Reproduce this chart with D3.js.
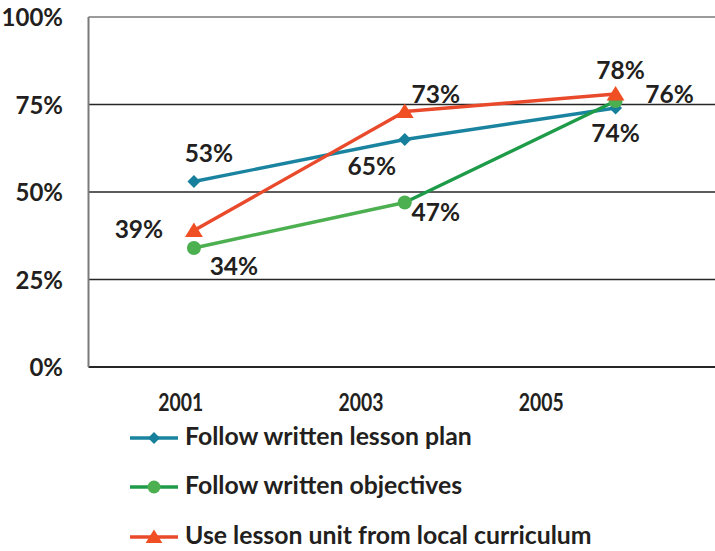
<!DOCTYPE html>
<html>
<head>
<meta charset="utf-8">
<script src="https://cdn.jsdelivr.net/npm/d3@7"></script>
<style>
  html, body { margin: 0; padding: 0; background: #fff; }
  svg { display: block; }
  text { font-family: Lato, "Open Sans", sans-serif; font-weight: bold; fill: #231f20; }
</style>
</head>
<body>
<svg id="chart" width="715" height="551"></svg>
<script>
// ---- data ----
const years = ["2001", "2003", "2005"];
const lessonPlan = [53, 65, 74];
const objectives = [34, 47, 76];
const localCurriculum = [39, 73, 78];
const seriesNames = ["Follow written lesson plan", "Follow written objectives", "Use lesson unit from local curriculum"];
const yTicks = [0, 25, 50, 75, 100];

// ---- layout ----
const W = 715, H = 551;
const plot = { left: 88.5, right: 721, top: 17, bottom: 367 };
const svg = d3.select("#chart");

const x = d3.scalePoint().domain(years).range([plot.left, plot.right]).padding(0.5);
const xLabel = d3.scalePoint().domain(years).range([90, 631]).padding(0.5);
const y = d3.scaleLinear().domain([0, 100]).range([plot.bottom, plot.top]);

// gridlines
svg.append("g").selectAll("line").data(yTicks).join("line")
  .attr("x1", plot.left).attr("x2", W)
  .attr("y1", d => y(d)).attr("y2", d => y(d))
  .attr("stroke", d => d === 100 ? "#7a7a7a" : "#262626")
  .attr("stroke-width", d => d === 0 ? 2 : 1.6);

// left axis line
svg.append("line")
  .attr("x1", plot.left).attr("x2", plot.left)
  .attr("y1", y(100)).attr("y2", y(0))
  .attr("stroke", "#7a7a7a").attr("stroke-width", 2);

// y tick labels
svg.append("g").selectAll("text").data(yTicks).join("text")
  .attr("x", 63).attr("y", d => y(d) + 3)
  .attr("text-anchor", "end").attr("dominant-baseline", "middle")
  .attr("font-size", 24)
  .text(d => d + "%");

// x labels
svg.append("g").selectAll("text").data(years).join("text")
  .attr("x", d => xLabel(d) - 22).attr("y", 405)
  .attr("dominant-baseline", "middle")
  .attr("font-size", 24)
  .attr("textLength", 45).attr("lengthAdjust", "spacingAndGlyphs")
  .text(d => d);

// series
const series = [
  { name: seriesNames[0], values: lessonPlan, segColors: ["#1a84a0", "#1a84a0"], marker: "diamond", mcolor: "#16809c", legendLine: "#1a84a0" },
  { name: seriesNames[1], values: objectives, segColors: ["#4caf50", "#1e9b48"], marker: "circle", mcolor: "#4caf50", legendLine: "#1e9b48" },
  { name: seriesNames[2], values: localCurriculum, segColors: ["#ea4a2c", "#ea4a2c"], marker: "triangle", mcolor: "#f04e23", legendLine: "#ea4a2c" }
];

// label offsets (dx, dy) per series, per year
const labelOffsets = [
  [[15, -27], [-33, 28], [0, 27]],
  [[40, 20], [31, 11], [54, -5]],
  [[-55, 0], [31, -16], [5, -22]]
];

function markerPath(type, size) {
  const s = size / 2;
  if (type === "diamond") return `M0,${-s} L${s},0 L0,${s} L${-s},0 Z`;
  if (type === "triangle") return `M0,${-s * 0.95} L${s * 1.05},${s * 0.75} L${-s * 1.05},${s * 0.75} Z`;
  return null;
}

function drawMarker(g, type, color, cx, cy, size) {
  if (type === "circle") {
    g.append("circle").attr("cx", cx).attr("cy", cy).attr("r", size / 2).attr("fill", color);
  } else {
    g.append("path").attr("d", markerPath(type, size)).attr("transform", `translate(${cx},${cy})`).attr("fill", color);
  }
}

const markerSize = { diamond: 13, circle: 14, triangle: 17 };
const linesG = svg.append("g");
const marksG = svg.append("g");
const labelsG = svg.append("g");

series.forEach((s, si) => {
  const pts = s.values.map((v, i) => [x(years[i]), y(v)]);
  for (let i = 0; i < pts.length - 1; i++) {
    linesG.append("path")
      .attr("d", d3.line()([pts[i], pts[i + 1]]))
      .attr("stroke", s.segColors[i]).attr("stroke-width", 3.4)
      .attr("fill", "none").attr("stroke-linecap", "round");
  }
});
series.forEach((s, si) => {
  s.values.forEach((v, i) => {
    drawMarker(marksG, s.marker, s.mcolor, x(years[i]), y(v), markerSize[s.marker]);
  });
});
series.forEach((s, si) => {
  s.values.forEach((v, i) => {
    const [dx, dy] = labelOffsets[si][i];
    labelsG.append("text")
      .attr("x", x(years[i]) + dx).attr("y", y(v) + dy + 1)
      .attr("text-anchor", "middle").attr("dominant-baseline", "middle")
      .attr("font-size", 24.5)
      .text(v + "%");
  });
});

// legend
const legendRows = [438, 487, 537];
const legend = svg.append("g");
series.forEach((s, si) => {
  const ly = legendRows[si];
  legend.append("line").attr("x1", 130).attr("x2", 178).attr("y1", ly).attr("y2", ly)
    .attr("stroke", s.legendLine).attr("stroke-width", 3.4);
  drawMarker(legend, s.marker, s.mcolor, 154, ly, markerSize[s.marker] - 1);
  legend.append("text").attr("x", 185).attr("y", ly + 1)
    .attr("dominant-baseline", "middle").attr("font-size", 24.8)
    .text(s.name);
});
</script>
</body>
</html>
